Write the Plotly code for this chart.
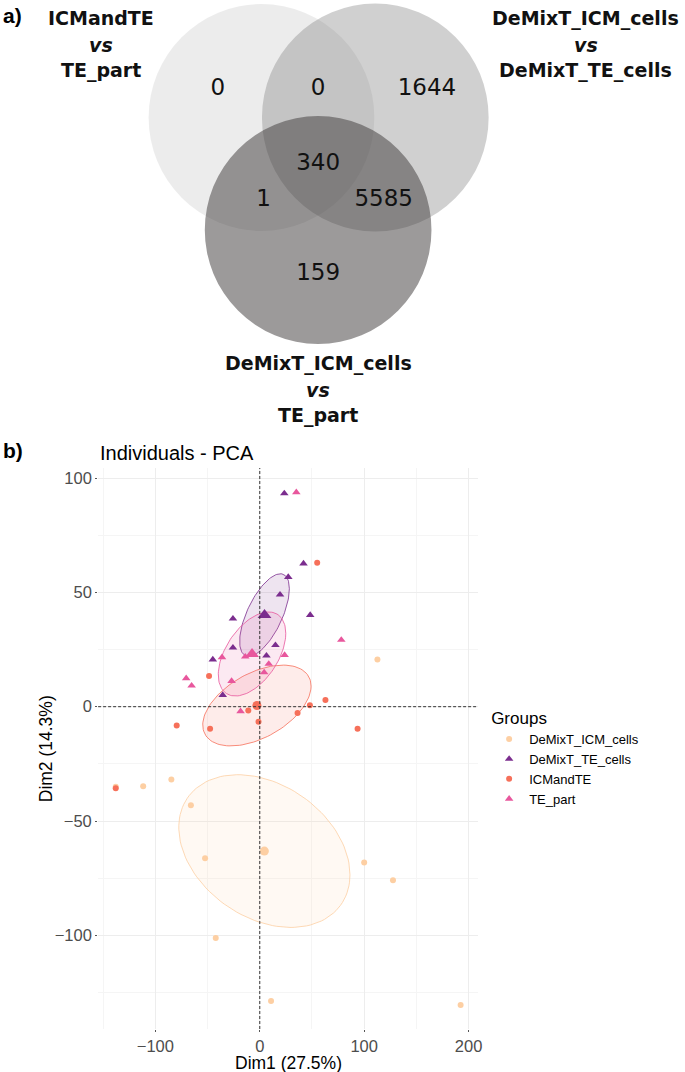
import numpy as np
import plotly.graph_objects as go

W, H = 685, 1072

# ---------------- Venn data ----------------
venn_label_top = ["ICMandTE", "DeMixT_ICM_cells", "DeMixT_ICM_cells"]
venn_label_mid = ["vs", "vs", "vs"]
venn_label_bottom = ["TE_part", "DeMixT_TE_cells", "TE_part"]
venn_regions = ["A", "AB", "B", "ABC", "AC", "BC", "C"]
venn_counts = [0, 0, 1644, 340, 1, 5585, 159]

# ---------------- PCA data ----------------
groups = ["DeMixT_ICM_cells", "DeMixT_TE_cells", "ICMandTE", "TE_part"]

icm_cells_dim1 = [112.7, -138.0, -111.7, -84.7, -66.0, -52.4, 100.0, 127.6, -42.2, 10.8, 192.4]
icm_cells_dim2 = [20.7, -35.0, -34.8, -31.8, -43.1, -66.3, -68.1, -75.9, -101.2, -128.7, -130.5]

te_cells_dim1 = [23.5, 41.9, 27.3, 19.4, 48.3, -25.7, -25.7, 15.0, 6.4, -45.0, -35.5]
te_cells_dim2 = [93.3, 62.6, 56.7, 49.0, 40.1, 38.5, 25.8, 26.9, 22.3, 20.6, 5.1]

icmandte_dim1 = [55.0, -48.6, 62.9, 48.0, -11.0, 36.2, -1.2, -79.6, -47.6, 93.7, -138.0]
icmandte_dim2 = [63.0, 13.4, 2.9, 0.6, -1.7, -2.8, -6.6, -8.2, -9.6, -9.6, -35.7]

te_part_dim1 = [35.0, 78.1, 23.8, -13.9, -36.2, 8.6, 4.2, -70.5, -65.3, -27.0, -18.4]
te_part_dim2 = [93.8, 29.2, 22.6, 21.9, 21.6, 18.7, 15.0, 12.4, 9.2, 11.2, -2.0]

x_ticks = [-100, 0, 100, 200]
y_ticks = [-100, -50, 0, 50, 100]

group_data = [
    (icm_cells_dim1, icm_cells_dim2),
    (te_cells_dim1, te_cells_dim2),
    (icmandte_dim1, icmandte_dim2),
    (te_part_dim1, te_part_dim2),
]
group_colors = ["#FDCFA3", "#7B2D8E", "#F6705A", "#E8579D"]
group_symbols = ["circle", "triangle-up", "circle", "triangle-up"]


def rgba(hexc, a):
    hexc = hexc.lstrip("#")
    r, g, b = int(hexc[0:2], 16), int(hexc[2:4], 16), int(hexc[4:6], 16)
    return f"rgba({r},{g},{b},{a})"


def conf_ellipse(x, y, k=2.4477, n=120):
    x = np.asarray(x, float)
    y = np.asarray(y, float)
    m = np.array([x.mean(), y.mean()])
    cov = np.cov(x, y) / len(x)
    L = np.linalg.cholesky(cov)
    t = np.linspace(0, 2 * np.pi, n)
    pts = m[:, None] + k * (L @ np.vstack([np.cos(t), np.sin(t)]))
    return pts[0], pts[1]


def px_x(px):
    return px / W


def px_y(py):
    return 1 - py / H


fig = go.Figure()

# ---------------- Venn (axis x / y in pixel units) ----------------
VENN_H = 420
fig.update_layout(
    xaxis=dict(domain=[0, 1], range=[0, W], visible=False, fixedrange=True),
    yaxis=dict(domain=[1 - VENN_H / H, 1], range=[VENN_H, 0], visible=False, fixedrange=True),
)

circle_geom = [(263, 117.5, 113.5), (377.5, 117.5, 114), (320, 230, 114)]
circle_fill = ["rgba(128,128,128,0.15)", "rgba(128,128,128,0.37)", "rgba(66,62,62,0.525)"]
shapes = []
for (cx, cy, r), fc in zip(circle_geom, circle_fill):
    shapes.append(dict(type="circle", xref="x", yref="y", x0=cx - r, x1=cx + r,
                       y0=cy - r, y1=cy + r, fillcolor=fc, line=dict(width=0), layer="below"))

region_pos = {"A": (219, 89), "AB": (320, 89), "B": (429.5, 89), "ABC": (320, 164),
              "AC": (265, 200), "BC": (386, 200), "C": (320, 274)}
fig.add_trace(go.Scatter(
    x=[region_pos[r][0] for r in venn_regions],
    y=[region_pos[r][1] for r in venn_regions],
    text=[str(c) for c in venn_counts], mode="text", xaxis="x", yaxis="y",
    textfont=dict(family="DejaVu Sans", size=23, color="#111111"),
    showlegend=False, hoverinfo="skip"))

annotations = []
label_pos = [(102, 18), (589, 18), (320, 363)]
line_offsets = [0, 27, 52]
for i, (lx, ly) in enumerate(label_pos):
    lines = [f"<b>{venn_label_top[i]}</b>", f"<b><i>{venn_label_mid[i]}</i></b>",
             f"<b>{venn_label_bottom[i]}</b>"]
    for txt, off in zip(lines, line_offsets):
        annotations.append(dict(x=lx, y=ly + off, xref="x", yref="y", text=txt,
                                showarrow=False, xanchor="center", yanchor="middle",
                                font=dict(family="DejaVu Sans", size=19, color="#111111")))

annotations.append(dict(x=px_x(1), y=px_y(15), xref="paper", yref="paper", text="<b>a)</b>",
                        showarrow=False, xanchor="left", yanchor="middle",
                        font=dict(family="Liberation Sans", size=21, color="black")))
annotations.append(dict(x=px_x(1), y=px_y(451), xref="paper", yref="paper", text="<b>b)</b>",
                        showarrow=False, xanchor="left", yanchor="middle",
                        font=dict(family="Liberation Sans", size=21, color="black")))

# ---------------- PCA ----------------
pl, pr, pt, pb = 98.7, 480.7, 468, 1029
xpx0, ypx0 = 261.3, 706.7
sx, sy = 1.05, 2.286
xr = [(pl - xpx0) / sx, (pr - xpx0) / sx]
yr = [(ypx0 - pb) / sy, (ypx0 - pt) / sy]

for (dx, dy), col in zip(group_data, group_colors):
    ex, ey = conf_ellipse(dx, dy)
    fig.add_trace(go.Scatter(x=ex, y=ey, mode="lines", fill="toself",
                             fillcolor=rgba(col, 0.13), line=dict(color=col, width=0.8),
                             xaxis="x2", yaxis="y2", showlegend=False, hoverinfo="skip"))

for g, (dx, dy), col, sym in zip(groups, group_data, group_colors, group_symbols):
    fig.add_trace(go.Scatter(x=dx, y=dy, mode="markers", name=g, xaxis="x2", yaxis="y2",
                             marker=dict(color=col, symbol=sym,
                                         size=6 if sym == "circle" else 7.5,
                                         line=dict(width=0))))

for g, (dx, dy), col, sym in zip(groups, group_data, group_colors, group_symbols):
    fig.add_trace(go.Scatter(x=[float(np.mean(dx))], y=[float(np.mean(dy))], mode="markers",
                             xaxis="x2", yaxis="y2", showlegend=False, hoverinfo="skip",
                             marker=dict(color=col, symbol=sym,
                                         size=9 if sym == "circle" else 12,
                                         line=dict(width=0))))

shapes.append(dict(type="line", xref="x2", yref="y2 domain", x0=0, x1=0, y0=0, y1=1,
                   line=dict(color="#333333", width=1, dash="3px,2px")))
shapes.append(dict(type="line", xref="x2 domain", yref="y2", x0=0, x1=1, y0=0, y1=0,
                   line=dict(color="#333333", width=1, dash="3px,2px")))

axis_common = dict(showline=False, zeroline=False, ticks="outside", ticklen=2,
                   tickcolor="#555555", tickwidth=1, showgrid=True, gridcolor="#EDEDED",
                   gridwidth=1, tickfont=dict(family="Liberation Sans", size=16.5, color="#4D4D4D"),
                   fixedrange=True)

fig.update_layout(
    xaxis2=dict(domain=[pl / W, pr / W], range=xr, anchor="y2", tickvals=x_ticks,
                minor=dict(tickvals=[-150, -50, 50, 150], showgrid=True, gridcolor="#F5F5F5",
                           ticks=""),
                **axis_common),
    yaxis2=dict(domain=[1 - pb / H, 1 - pt / H], range=yr, anchor="x2", tickvals=y_ticks,
                minor=dict(tickvals=[-125, -75, -25, 25, 75], showgrid=True,
                           gridcolor="#F5F5F5", ticks=""),
                **axis_common),
)

annotations.append(dict(x=px_x(99), y=px_y(452.5), xref="paper", yref="paper",
                        text="Individuals - PCA", showarrow=False, xanchor="left",
                        yanchor="middle",
                        font=dict(family="Liberation Sans", size=20, color="black")))
annotations.append(dict(x=px_x((pl + pr) / 2), y=px_y(1063), xref="paper", yref="paper",
                        text="Dim1 (27.5%)", showarrow=False, xanchor="center",
                        yanchor="middle",
                        font=dict(family="Liberation Sans", size=17.5, color="black")))
annotations.append(dict(x=px_x(46), y=px_y((pt + pb) / 2), xref="paper", yref="paper",
                        text="Dim2 (14.3%)", showarrow=False, textangle=-90,
                        xanchor="center", yanchor="middle",
                        font=dict(family="Liberation Sans", size=17.5, color="black")))

fig.update_layout(
    width=W, height=H,
    margin=dict(l=0, r=0, t=0, b=0),
    paper_bgcolor="white", plot_bgcolor="white",
    shapes=shapes, annotations=annotations,
    showlegend=True,
    legend=dict(x=px_x(492), y=px_y(702), xanchor="left", yanchor="top",
                title=dict(text="Groups", font=dict(family="Liberation Sans", size=17,
                                                    color="black")),
                font=dict(family="Liberation Sans", size=13, color="black"),
                bgcolor="rgba(0,0,0,0)", tracegroupgap=0, itemwidth=30),
)

fig.write_html("out.html",
               config={"displayModeBar": False, "staticPlot": False},
               post_script="document.body.style.margin='0';document.body.style.padding='0';")
